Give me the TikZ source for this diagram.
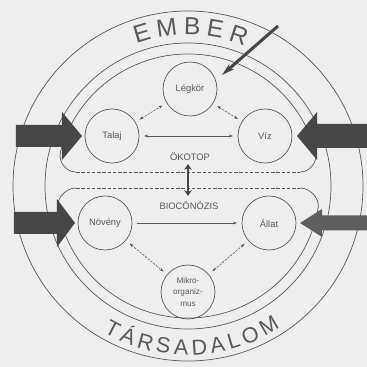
\documentclass[tikz,border=0pt]{standalone}
\usepackage{fontspec}
\setmainfont{Liberation Sans}
\usetikzlibrary{arrows.meta,decorations.text}
\definecolor{scangray}{RGB}{238,238,238}
\definecolor{inkgray}{RGB}{88,88,88}
\definecolor{arrowgray}{RGB}{70,70,70}
\definecolor{arrowlight}{RGB}{95,95,95}
\newcommand{\ringfont}{\fontsize{21}{24}\selectfont}
\newcommand{\lowringfont}{\fontsize{18.5}{22}\selectfont}
\begin{document}
\begin{tikzpicture}[x=0.3mm, y=0.3mm,
    ring/.style={draw=inkgray, line width=0.6pt},
    part/.style={circle, draw=inkgray, line width=0.6pt, minimum size=16.2mm, inner sep=0pt,
        font=\fontsize{8}{9}\selectfont, text=inkgray},
    tag/.style={font=\fontsize{8}{9}\selectfont, text=inkgray},
    swap/.style={inkgray, line width=0.5pt, dash pattern=on 2pt off 1pt,
        {Stealth[length=3.5pt,width=2.5pt]}-{Stealth[length=3.5pt,width=2.5pt]},
        shorten <=4pt, shorten >=4pt},
    flow/.style={inkgray, line width=0.5pt, shorten <=4pt, shorten >=4pt},
    inflow/.style={fill=arrowgray},
    arctext/.style={decorate, decoration={text along path, text align={fit to path}, text color=inkgray}},
]
    % Scanned page and frame
    \fill[scangray] (-188,-181) rectangle (179,186);
    \useasboundingbox (-188,-181) rectangle (179,186);

    % The human ring
    \draw[ring] (0,0) circle (175);
    \draw[ring] (0,0) circle (143);
    \path[arctext, decoration={text={|\ringfont|EMBER}}]
        (110:151) arc[start angle=110, end angle=68, radius=151];
    \path[arctext, decoration={text={|\lowringfont|TÁRSADALOM}}]
        (240:169) arc[start angle=240, end angle=303, radius=169];

    % Upper domain (ecotope)
    \draw[ring] (112,14) .. controls (122,14) and (130,24) .. (15:132)
        arc[start angle=15, end angle=165, radius=132]
        .. controls (-130,24) and (-122,14) .. (-112,14);
    \draw[ring, dash pattern=on 3pt off 1.5pt] (-112,14) -- (112,14);

    % Lower domain (biocoenosis)
    \draw[ring] (112,-2) .. controls (122,-2) and (131.8,-12.1) .. (-9.6:132)
        arc[start angle=-9.6, end angle=-170.4, radius=132]
        .. controls (-131.8,-12.1) and (-122,-2) .. (-112,-2);
    \draw[ring, dash pattern=on 3pt off 1.5pt] (-112,-2) -- (112,-2);

    % Components
    \node[part] (legkor) at (2,97) {Légkör};
    \node[part] (talaj) at (-76,50) {Talaj};
    \node[part] (viz) at (77,50) {Víz};
    \node[part] (noveny) at (-83,-37) {Növény};
    \node[part] (allat) at (81,-37) {Állat};
    \node[part, align=center, font=\fontsize{7}{9.5}\selectfont] (mikro) at (0,-106) {Mikro-\\organiz-\\mus};
    \node[tag] (okotop) at (2,29) {ÖKOTOP};
    \node[tag] (biocon) at (1,-19) {BIOCÖNÓZIS};

    % Links inside the domains
    \draw[swap] (talaj) -- (legkor);
    \draw[swap] (legkor) -- (viz);
    \draw[flow, {Stealth[length=3.5pt,width=2.5pt]}-{Stealth[length=3.5pt,width=2.5pt]}] (talaj) -- (viz);
    \draw[flow, -{Stealth[length=3.5pt,width=2.5pt]}] (noveny) -- (allat);
    \draw[swap] (noveny) -- (mikro);
    \draw[swap] (allat) -- (mikro);

    % Exchange between the two domains
    \coordinate (oko-end) at (0,22);
    \coordinate (bio-end) at (0,-10);
    \draw[arrowgray, line width=2.2pt, {Stealth[length=5pt,width=6.5pt]}-{Stealth[length=5pt,width=6.5pt]}] (oko-end) -- (bio-end);

    % Human impact from outside
    \fill[inflow] (-172,61) -- (-126,61) -- (-126,74) -- (-106,50) -- (-126,26) -- (-126,39) -- (-172,39) -- cycle;
    \fill[inflow] (-174,-26) -- (-131,-26) -- (-131,-13) -- (-113,-37) -- (-131,-61) -- (-131,-48) -- (-174,-48) -- cycle;
    \fill[inflow] (179,62) -- (129,62) -- (129,74) -- (109,50) -- (129,26) -- (129,38) -- (179,38) -- cycle;
    \fill[arrowlight] (179,-29.5) -- (134,-29.5) -- (134,-23) -- (112,-37) -- (134,-51) -- (134,-44.5) -- (179,-44.5) -- cycle;
    \coordinate (ember-in) at (90,160);
    \coordinate (ember-hit) at (34,111);
    \draw[arrowgray, line width=2.6pt, -{Stealth[length=11pt,width=6pt]}] (ember-in) -- (ember-hit);
\end{tikzpicture}
\end{document}
